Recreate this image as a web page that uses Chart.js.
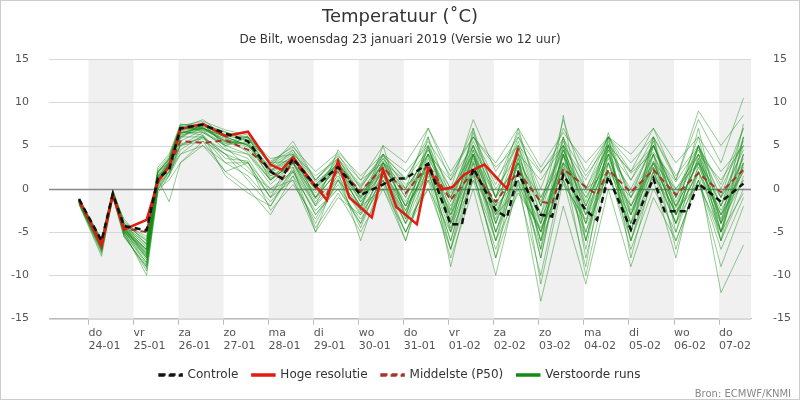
<!DOCTYPE html>
<html>
<head>
<meta charset="utf-8">
<script src="https://cdn.jsdelivr.net/npm/chart.js@4/dist/chart.umd.min.js"></script>
<style>
  html, body { margin: 0; padding: 0; background: #fff; }
  #wrap { width: 798px; height: 398px; border: 1px solid #ccc; }
</style>
</head>
<body>
<div id="wrap"><canvas id="c" width="798" height="398"></canvas></div>
<script>
// hours since 24-01 00:00
var times = [-5, 7, 13, 19, 31, 37, 43, 49, 61, 73, 85, 97, 109, 121, 133, 145, 157, 169, 181, 193, 205, 217, 229, 241, 253, 265, 277, 289, 301, 313, 325, 337, 349];
var dayLabels = [['do','24-01'],['vr','25-01'],['za','26-01'],['zo','27-01'],['ma','28-01'],['di','29-01'],['wo','30-01'],['do','31-01'],['vr','01-02'],['za','02-02'],['zo','03-02'],['ma','04-02'],['di','05-02'],['wo','06-02'],['do','07-02']];
var yTicks = [-15, -10, -5, 0, 5, 10, 15];

var controle = [[-5,-1.2],[7,-6],[13,-0.6],[19,-4.3],[31,-4.8],[37,1.2],[43,2.2],[49,7],[61,7.4],[73,6.4],[85,5.5],[97,2],[103,1.2],[109,3.5],[121,0.3],[133,2.5],[145,-0.7],[157,0.5],[163,1.2],[169,1.2],[181,2.9],[193,-4.1],[199,-4.1],[205,2.4],[217,-2.5],[223,-3.3],[229,1.8],[235,-0.7],[241,-3],[247,-3.2],[253,1.6],[265,-2.5],[271,-3.6],[277,1.4],[289,-4.7],[301,1.2],[307,-2.6],[319,-2.6],[325,0.6],[337,-1.5],[349,0.6]];
var hogeResolutie = [[-5,-1.2],[7,-6.6],[13,-0.7],[19,-4.7],[31,-3.6],[37,0.8],[43,2.6],[49,6.9],[61,7.5],[73,6.1],[85,6.6],[97,2.8],[103,2.2],[109,3.6],[127,-1.3],[133,3.2],[139,-1],[151,-3.3],[157,2.2],[164,-2.1],[175,-4.1],[181,2.4],[188,-0.1],[194,0.2],[200,1.6],[205,2.2],[211,2.8],[223,0],[229,4.7]];
var middelste = [[-5,-1.4],[7,-6.2],[13,-0.6],[19,-4.6],[31,-5],[37,1],[43,2.5],[49,5.5],[61,5.3],[73,5.6],[85,4.5],[97,2.2],[103,1.0],[109,3.2],[121,0.2],[127,-0.7],[133,2.5],[145,-0.3],[157,2.5],[169,-0.5],[181,2.8],[193,-1.3],[205,2.0],[217,-1.5],[229,2.0],[241,-1.5],[247,-1.7],[253,2.3],[265,0.2],[271,-0.7],[277,2.2],[289,-0.4],[301,2.2],[313,-0.7],[325,1.8],[337,-0.4],[349,2.2]];

var runs = [
  [-1.5,-6.5,-0.5,-5,-7,1,3,6.5,7,5.5,6,2,4.5,0,3.5,-1,3,-2,4,-3,5,-1,3,-4,4,-2,5,-1,4,-2,3,-3,4],
  [-1.8,-7.5,-0.8,-5.5,-9,0.5,2,5,6.5,5,4,1,3,-1,2,-2,2,-4,2,-6,3,-5,1,-7,3,-4,6,-3,5,-1,4,-4,3],
  [-1.2,-6,-0.3,-4,-6,2,3.5,7,7.5,6.5,6,3,5,1,4,0,4,1,6,-1,6,1,5,-2,8,0,6,1,5,-1,6,-5,6],
  [-1.4,-6.8,-0.6,-4.5,-8,1.5,2.5,6,6,4,2,0,2,-2,1,-3,1,-5,0,-7,2,-8,0,-10,2,-6,4,-4,3,-3,2,-12,-6.5],
  [-1.6,-7,-0.4,-5,-10,0,2,4,5,3,3,-1,2,-3,0,-4,3,-2,2,-5,4,-3,3,-6,6,-8,3,-5,5,-2,5,-1,7],
  [-1.3,-6.2,-0.7,-3.5,-6.5,2.5,4,7.5,7,6,5,2.5,5.5,1,3.5,-0.5,3,0,7,1,7,-1,6,2,5,0,5,2,7,1,9,5,8.5],
  [-1.5,-6.6,-0.5,-4.8,-7.5,1,3,6,7.5,5,6,1.5,3,-0.5,2.5,-1.5,2,-3,3,-4,2,-2,1,-4,2,-3,2,-2,3,-3,2,-4,1],
  [-1.7,-7.2,-0.9,-5.2,-8.5,0,1,3,5,2,3,0,1,-4,1,-2,0,-5,1,-8,0,-10,1,-13,-2,-11,0,-9,-1,-6,1,-7,-1],
  [-1.2,-5.8,-0.2,-4,-5.5,2,3,7,7,6,6,3.5,4,1.5,3.5,0.5,4,2,5,0,8,2,6,0,7,2,6,3,6,1,8,3,10.5],
  [-1.5,-6.4,-0.6,-4.6,-7,1,2.5,6.5,6.5,5,5.5,1,3,0,2.5,-1,2.5,-1.5,3,-2,3.5,-2,4,-3,3,-1,3,-2,2.5,-2,3,-3,2],
  [-1.4,-6.9,-0.5,-5.3,-9.5,-0.5,1.5,5,5.5,4,1,-2,2,-3,0.5,-4,1,-6,2,-6,3,-6,2,-8,4,-7,5,-6,2,-6,1,-9,-2],
  [-1.3,-6.1,-0.4,-4.3,-6.3,1.5,3.2,7,8,6,5,2,3.5,0.5,3,-0.5,2,0,4,1,5,0,4,1,5,1,6,2,5,0,4,1,5],
  [-1.6,-6.7,-0.7,-4.9,-8,0.8,2.8,6,7,5.5,4.5,1,3,-1,2,-2,4,-3,5,-4,4,-5,2,-5,4,-5,4,-4,6,-5,4,-5,4],
  [-1.5,-6.3,-0.3,-4.4,-7.2,1.2,3.3,6.8,7.2,6.2,5.5,2.5,4,0,3,-1,3,-1,4,-1,4,-2,5,-3,6,-2,4,0,5,-1,5,-2,6],
  [-1.8,-7.8,-1,-5.6,-9,0,1.5,4,6,4,3,-1,1,-5,-1,-3,1,-4,0,-5,1,-3,0,-5,1,-4,1,-3,2,-4,1,-6,0],
  [-1.1,-5.9,-0.1,-3.8,-5.8,2.2,3.8,7.3,7.8,6.8,6.2,3,4.5,1,3.8,1,3,1,4.5,0,4,-1,3,-1,3,0,2,-1,3,0,3,-1,3],
  [-1.4,-6.5,-0.6,-4.7,-7.8,0.6,2.2,5.5,6.8,5.8,4.8,1.5,2.5,-1.5,1.5,-2.5,1.5,-3,3.5,-1,5,-3,3.5,-2,5,-3,6.5,-2,4,-4,5,-4,4],
  [-1.3,-6,-0.2,-4.2,-6.8,1.8,3.6,7.2,6.6,5.2,5.8,2.8,4.2,0.8,2.8,0.2,3.5,0.5,2,-2.5,4.5,-4,3,-5,4,-2.5,3,-3,4,-1.5,4,-2,5],
  [-1.7,-7.3,-0.8,-5.1,-8.8,0.3,1.8,5,6,3,1.5,-1.5,1.5,-2.5,0,-3.5,0.5,-5,1,-3,2,-4,2,-6,1,-5,2,-7,0,-5,2,-3,1],
  [-1.5,-6.5,-0.5,-4.5,-7,1,3,6.5,7,6,5,2,3.8,0.2,3,-0.5,3.5,-0.5,4.5,-1.5,5,-1,5.5,-1.5,5.5,-0.5,5,-0.5,5,-0.5,4.5,-1,4.5],
  [-1.2,-6.2,-0.3,-4.1,-6,2,3.4,6.9,7.3,6.3,5.9,3,3.2,0.5,2.6,-0.8,2.8,-2,4.8,-2.5,6.5,-1,7,-2,4.5,-1.5,5.5,-1,5.5,-3,3.5,-2,3.5],
  [-1.6,-7,-0.6,-5,-8.2,0.4,2,5.2,5.8,4.5,3.5,-0.5,2.2,-1.8,1.2,-2.8,1.8,-3.5,2.5,-4.5,1.5,-6,-0.5,-4.5,0.5,-3.5,1.5,-4,1.5,-2.5,0.5,-5,-0.5],
  [-1.4,-6.6,-0.4,-4.6,-7.4,1.4,2.9,6.2,6.9,5.4,5.2,2.2,3.7,0.4,3.3,0.3,3.8,1.2,5.5,1.5,6,2.5,5,1.8,5.8,1.5,5.2,1.8,4.2,0.8,4.8,0.5,7],
  [-1.5,-6.4,-0.5,-4.5,-7.6,0.9,2.7,6.4,7.1,5.6,5.1,1.8,3.4,-0.2,2.2,-1.2,2.2,-2.5,2.8,-3,3.2,-3.5,4.2,-4,3.8,-2,4,-3,3.2,-2.2,3.2,-3.5,2.8],
  [-1.3,-6.3,-0.4,-4.4,-6.6,1.1,-1.5,3,5.5,2,0,-3,1.5,-4.5,-0.5,-5,0,-6,3,-7,4,-5,3,-8,5,-6,3,-5,4,-7,2,-5,3],
  [-1.6,-6.9,-0.7,-4.8,-8.6,1.3,3.1,6.6,6.2,1.5,-0.5,-2,2.5,-5,2,-6,1.5,-4,4,-9,2,-8,4,-11,1,-9,6,-8,2,-4,5,-6,6],
  [-1.4,-6.4,-0.5,-4.3,-7.1,1.6,3.5,7.1,6.8,4.5,4,0.5,3,-2,4.5,1,5,3,7,2,6,3,7,2.5,6.5,3,6,4,7,3,6,2,5],
  [-1.5,-6.7,-0.6,-4.9,-7.9,0.7,2.4,5.8,7.6,4.8,2.5,-1,4,-1,3,-2.5,5,-3.5,6,-5,7,-4,5,-7,8.5,-6,5,-5,6,-3,7,-4,7.5],
  [-1.3,-6.1,-0.3,-4.2,-6.4,1.9,3.4,7.4,7.4,5.9,4.2,1,3.8,-1,3.2,-1.5,2,-2.5,3,-4,4,-6,3.5,-6,4.5,-4,4.5,-6,3,-3,3.5,-5,2.5],
  [-1.7,-7.1,-0.8,-5.4,-9.2,0.2,1.6,4.5,6.2,3.5,3.2,-2.5,0.5,-3.5,1,-4.5,2,-2,1.5,-7,1,-7,0.5,-5,3,-10,2,-6,1,-8,3,-6,1.5],
  [-1.4,-6.8,-0.5,-4.7,-7.3,1.3,2.6,6.3,7.4,6.6,5.6,3.2,4.8,2,4.2,1.5,4,0,4,-0.5,5.5,0.5,6.5,-1,4.5,-1,4.5,1,6,1.5,5,0,5.5],
  [-1.5,-6.5,-0.4,-4.6,-7.7,1,2.9,6.7,7.1,5.3,5.3,1.2,2.8,-1.2,2.3,-2,3.2,-1,5,-3.5,4.5,-2.5,2.5,-3.5,2.5,-3,3.5,-2.5,2.5,-4,2.5,-2.5,2]
];

function toXY(arr) { return arr.map(function (p) { return { x: p[0], y: p[1] }; }); }

var datasets = [];
runs.forEach(function (r) {
  datasets.push({
    label: 'Verstoorde runs',
    data: r.map(function (v, k) { return { x: times[k], y: v }; }),
    borderColor: 'rgba(20,140,20,0.5)',
    borderWidth: 0.9,
    pointRadius: 0,
    order: 10
  });
});
datasets.push({ label: 'Middelste (P50)', data: toXY(middelste), borderColor: '#a5342a', borderWidth: 2, borderDash: [6, 4], pointRadius: 0, order: 3 });
datasets.push({ label: 'Hoge resolutie', data: toXY(hogeResolutie), borderColor: '#e01b12', borderWidth: 2.5, pointRadius: 0, order: 2 });
datasets.push({ label: 'Controle', data: toXY(controle), borderColor: '#111', borderWidth: 2.5, borderDash: [6, 4], pointRadius: 0, order: 1 });

var legendOrder = ['Controle', 'Hoge resolutie', 'Middelste (P50)', 'Verstoorde runs'];

var bands = {
  id: 'bands',
  beforeDatasetsDraw: function (chart) {
    var ctx = chart.ctx, a = chart.chartArea, xs = chart.scales.x;
    ctx.save();
    ctx.fillStyle = '#f0f0f0';
    for (var d = 0; d < 15; d += 2) {
      var x1 = Math.max(xs.getPixelForValue(d * 24), a.left);
      var x2 = Math.min(xs.getPixelForValue(d * 24 + 24), a.right);
      ctx.fillRect(x1, a.top, x2 - x1, a.bottom - a.top);
    }
    var ys = chart.scales.y;
    yTicks.forEach(function (v) {
      var y = Math.round(ys.getPixelForValue(v)) + 0.5;
      ctx.strokeStyle = v === 0 ? '#888' : '#d8d8d8';
      ctx.lineWidth = v === 0 ? 1.3 : 1;
      ctx.beginPath(); ctx.moveTo(a.left, y); ctx.lineTo(a.right, y); ctx.stroke();
    });
    ctx.restore();
  },
  afterDraw: function (chart) {
    var ctx = chart.ctx;
    ctx.save();
    ctx.font = '10px "DejaVu Sans"';
    ctx.fillStyle = '#888';
    ctx.textAlign = 'right';
    ctx.fillText('Bron: ECMWF/KNMI', 790, 393);
    ctx.restore();
  }
};

new Chart(document.getElementById('c'), {
  type: 'line',
  data: { datasets: datasets },
  plugins: [bands],
  options: {
    responsive: false,
    animation: false,
    layout: { padding: { top: 0, bottom: 8 } },
    plugins: {
      title: { display: true, text: 'Temperatuur (˚C)', color: '#333', font: { family: 'DejaVu Sans', size: 18, weight: 'normal' }, padding: { top: 6, bottom: 4 } },
      subtitle: { display: true, text: 'De Bilt, woensdag 23 januari 2019 (Versie wo 12 uur)', color: '#333', font: { family: 'DejaVu Sans', size: 12 }, padding: { bottom: 12 } },
      legend: {
        position: 'bottom',
        labels: {
          color: '#333',
          font: { family: 'DejaVu Sans', size: 12 },
          boxWidth: 22, boxHeight: 1,
          padding: 14,
          generateLabels: function (chart) {
            return legendOrder.map(function (name) {
              var ds = chart.data.datasets.find(function (d) { return d.label === name; });
              var green = name === 'Verstoorde runs';
              return {
                text: name,
                fillStyle: green ? '#138a13' : (ds.borderDash ? 'rgba(0,0,0,0)' : ds.borderColor),
                strokeStyle: green ? '#138a13' : ds.borderColor,
                lineWidth: 2.5, lineDash: ds.borderDash || [], hidden: false, fontColor: '#333'
              };
            });
          }
        }
      },
      tooltip: { enabled: false }
    },
    scales: {
      x: {
        type: 'linear', min: -21, max: 353,
        afterBuildTicks: function (s) { s.ticks = dayLabels.map(function (_, i) { return { value: i * 24 }; }); },
        ticks: {
          align: 'start', autoSkip: false, maxRotation: 0, color: '#555', padding: 2,
          font: { family: 'DejaVu Sans', size: 11 },
          callback: function (v) { return dayLabels[Math.round(v / 24)]; }
        },
        grid: { drawOnChartArea: false, color: '#bbb', tickLength: 6 },
        border: { color: '#bbb' }
      },
      y: {
        min: -15, max: 15,
        afterBuildTicks: function (s) { s.ticks = yTicks.map(function (v) { return { value: v }; }); },
        afterFit: function (s) { s.width = 48; },
        ticks: { color: '#555', font: { family: 'DejaVu Sans', size: 11 }, padding: 12 },
        grid: { display: false },
        border: { display: false }
      },
      y2: {
        position: 'right', min: -15, max: 15,
        afterBuildTicks: function (s) { s.ticks = yTicks.map(function (v) { return { value: v }; }); },
        afterFit: function (s) { s.width = 48; },
        ticks: { color: '#555', font: { family: 'DejaVu Sans', size: 11 }, padding: 14 },
        grid: { display: false },
        border: { display: false }
      }
    }
  }
});
</script>
</body>
</html>
